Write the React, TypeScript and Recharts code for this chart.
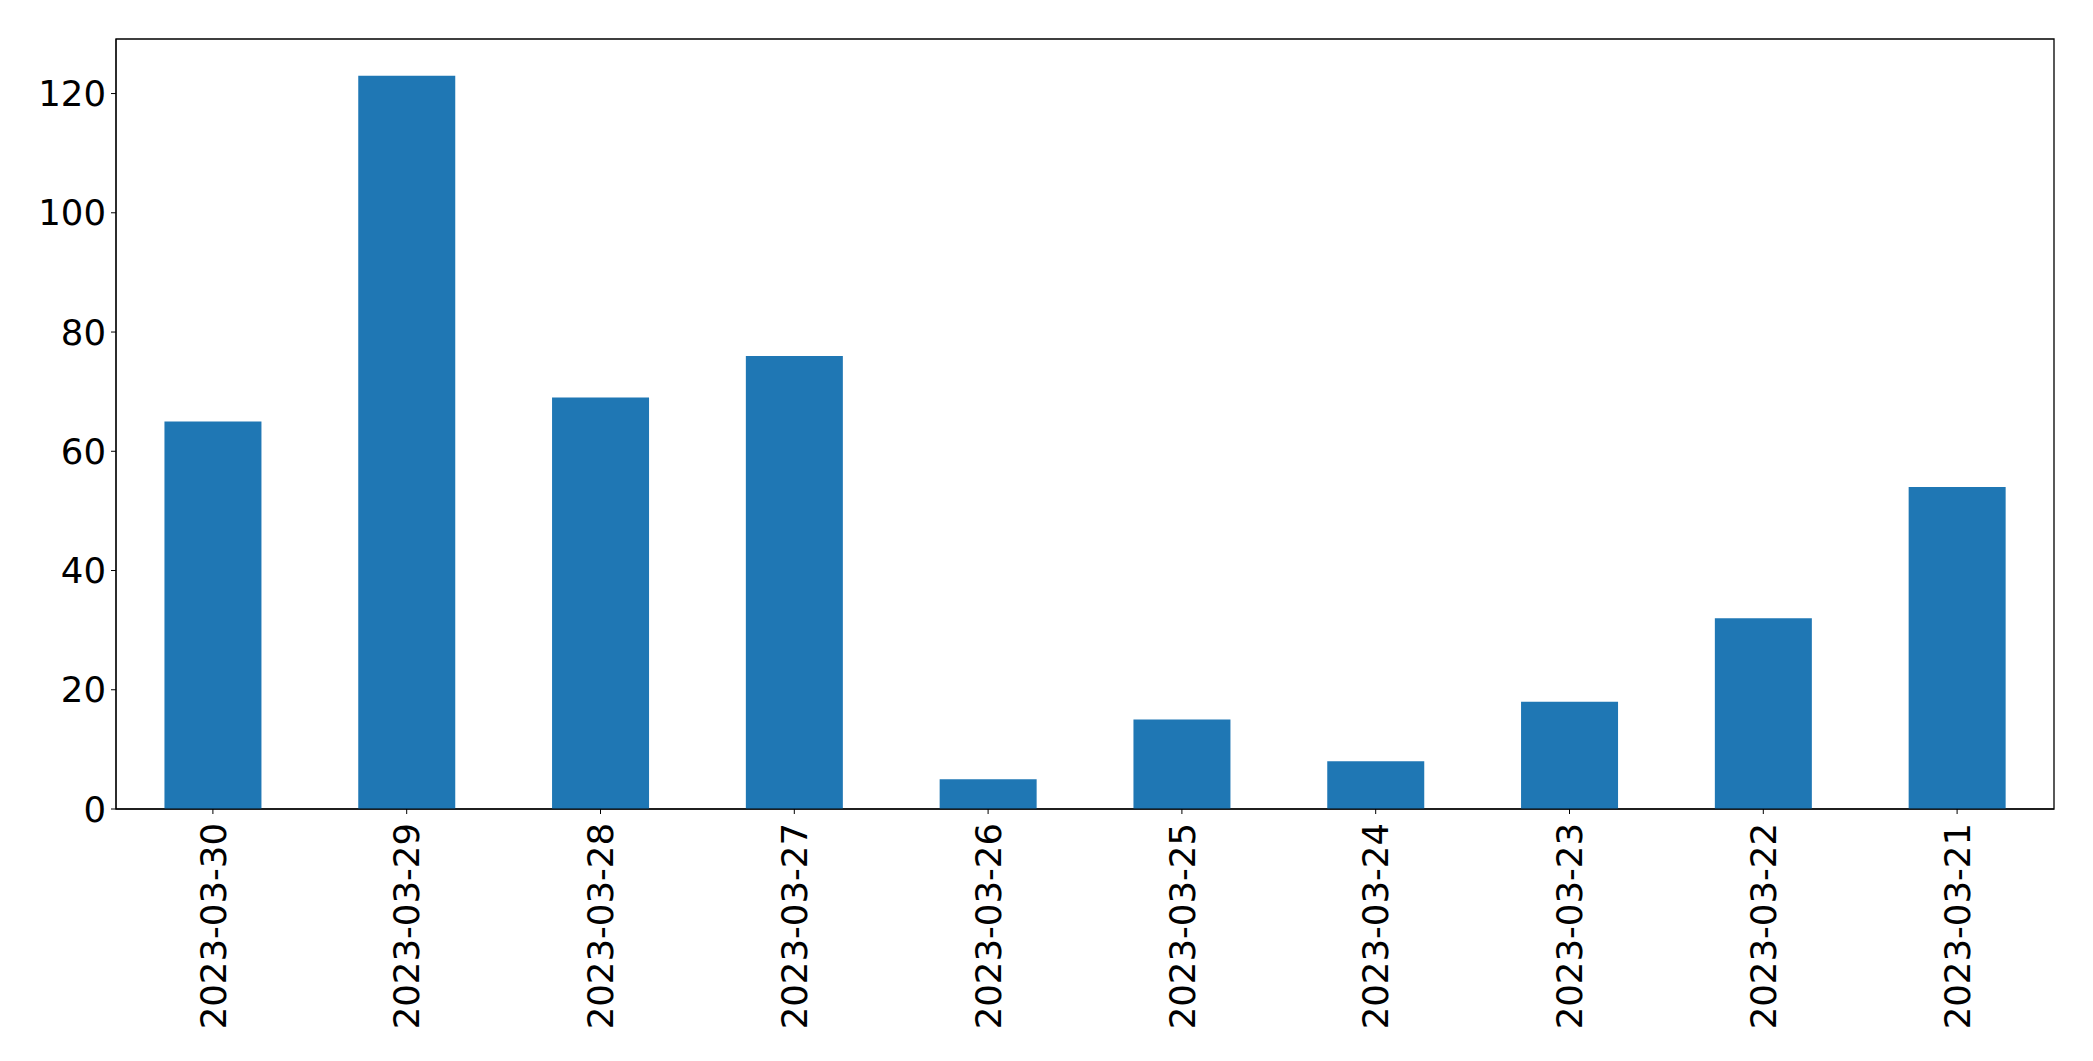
import React from 'react';
import { BarChart, Bar, XAxis, YAxis, ReferenceArea } from 'recharts';

// daily counts, newest first (as in the source)
const dates = [
  '2023-03-30',
  '2023-03-29',
  '2023-03-28',
  '2023-03-27',
  '2023-03-26',
  '2023-03-25',
  '2023-03-24',
  '2023-03-23',
  '2023-03-22',
  '2023-03-21',
];
const counts = [65, 123, 69, 76, 5, 15, 8, 18, 32, 54];
const yTicks = [0, 20, 40, 60, 80, 100, 120];
const yMax = 129.15;

const FONT = '"DejaVu Sans", sans-serif';

function DateTick({ x, y, payload }: any) {
  return (
    <text
      x={x}
      y={y}
      transform={`rotate(-90, ${x}, ${y})`}
      textAnchor="end"
      dy="0.36em"
      fontSize={35.5}
      fontFamily={FONT}
      fill="#000"
    >
      {payload.value}
    </text>
  );
}

export default function App() {
  const data = dates.map((d, i) => ({ date: d, count: counts[i] }));

  return (
    <div style={{ position: 'absolute', left: 0, top: 0, background: '#fff' }}>
      <BarChart
        width={2093}
        height={1061}
        data={data}
        margin={{ top: 39, right: 39, bottom: 12, left: 0 }}
        barCategoryGap="25%"
      >
        <XAxis
          dataKey="date"
          height={240}
          interval={0}
          stroke="#000"
          tickSize={5}
          tickMargin={9}
          tick={<DateTick />}
        />
        <YAxis
          width={116}
          domain={[0, yMax]}
          ticks={yTicks}
          allowDataOverflow
          stroke="#000"
          tickSize={5}
          tickMargin={5}
          tick={{ fontSize: 35.5, fontFamily: FONT, fill: '#000' }}
        />
        <Bar dataKey="count" fill="#1f77b4" isAnimationActive={false} />
        {/* plot frame */}
        <ReferenceArea y1={0} y2={yMax} fill="none" stroke="#000" strokeWidth={1.3} />
      </BarChart>
    </div>
  );
}
